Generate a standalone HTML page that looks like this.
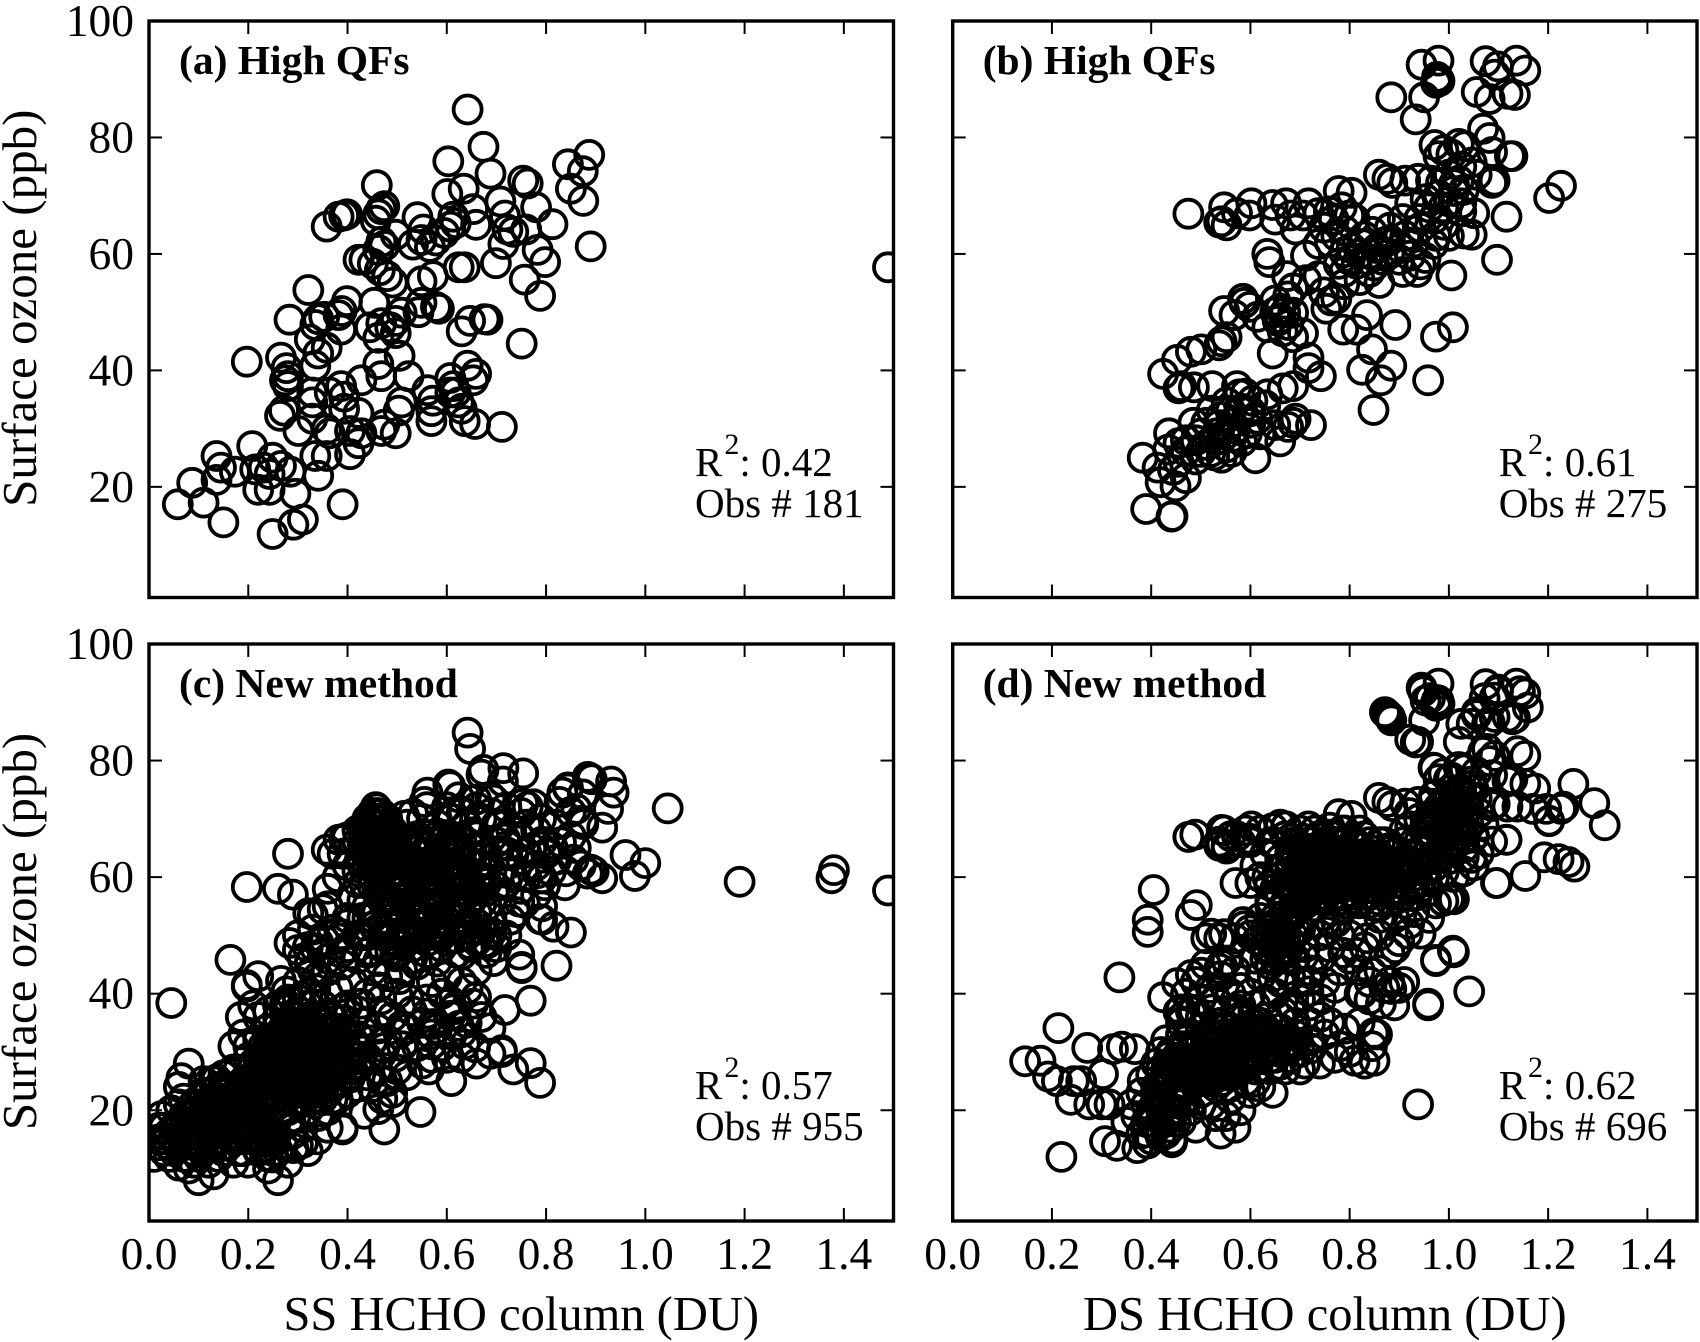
<!DOCTYPE html>
<html lang="en">
<head>
<meta charset="utf-8">
<title>Surface ozone vs HCHO column</title>
<style>
html,body{margin:0;padding:0;background:#fff;}
body{width:1700px;height:1342px;overflow:hidden;}
svg{display:block;}
text{font-family:"Liberation Serif",serif;fill:#000;}
</style>
</head>
<body>
<svg id="chart" xmlns="http://www.w3.org/2000/svg" width="1700" height="1342" viewBox="0 0 1700 1342">
<rect x="0" y="0" width="1700" height="1342" fill="#fff"/>
<defs id="clips"></defs>
</svg>
<script>
const xTicks = [0.2,0.4,0.6,0.8,1.0,1.2,1.4];
const xTickLabels = ["0.0","0.2","0.4","0.6","0.8","1.0","1.2","1.4"];
const xTickLabelValues = [0,0.2,0.4,0.6,0.8,1.0,1.2,1.4];
const yTicks = [20,40,60,80];
const yTickLabels = ["100","80","60","40","20"];
const yTickLabelValues = [100,80,60,40,20];

const panelAPoints = [
[.642,84.8],[.674,78.4],[.603,75.9],[.688,73.8],[.887,77],[.844,75.4],[.874,74.2],[.85,71.2],[.875,69.1],[.89,61.3],[.754,72.6],[.763,72.1],[.634,71.2],[.601,70.3],[.459,71.8],[.708,69],[.78,68],[.717,66.6],[.813,65.1],[.653,67.7],[.474,68.2],[.468,67.7],[.462,66.8],[.457,65.7],[.393,66.6],[.382,66.4],[.399,66.8],[.358,64.7],[.541,66.3],[.553,64.2],[.549,62.4],[.497,63.3],[.613,66.4],[.618,65.3],[.607,64.7],[.595,63.6],[.578,62.3],[.566,61.2],[.532,61.6],[.659,65],[.722,64.2],[.734,63.8],[.714,61.7],[.76,64.2],[.783,60.7],[.798,58.6],[.699,58.4],[.757,55.6],[.788,52.8],[.751,44.6],[.624,57.7],[.636,57.7],[.572,56.2],[.549,55.3],[.474,61.4],[.462,60.7],[.468,62.1],[.422,59],[.434,59],[.451,58.3],[.465,57.2],[.48,56.2],[.491,55.1],[.321,53.8],[.399,51.9],[.454,51.6],[.549,51.6],[.578,50.9],[.584,50.6],[.543,50],[.509,49.9],[.497,48.5],[.468,48.1],[.445,47.4],[.283,48.7],[.341,48.8],[.353,49.2],[.382,49.5],[.388,50.2],[.387,47],[.335,47.8],[.486,47.4],[.497,46.4],[.462,45.6],[.676,48.8],[.682,48.7],[.647,48.5],[.63,46.7],[.324,45.3],[.358,43.9],[.341,42.9],[.335,40.8],[.197,41.5],[.266,42.2],[.277,40.4],[.28,39],[.274,38.3],[.28,37.3],[.505,42.5],[.462,41.1],[.468,39],[.523,39],[.428,38.3],[.329,36.2],[.364,36.2],[.387,37.3],[.393,35.5],[.329,34.5],[.393,33.4],[.422,32.7],[.509,34.5],[.503,33.1],[.561,36.6],[.572,34.8],[.569,33],[.569,31.3],[.607,38.7],[.613,37.3],[.618,36.2],[.607,36.2],[.624,34.5],[.63,33.4],[.636,31.3],[.657,30.8],[.642,40.8],[.659,39.4],[.653,38.3],[.711,30.3],[.264,32.2],[.272,33.1],[.301,29.6],[.329,31.7],[.364,29.2],[.358,29.9],[.405,29.6],[.428,29.2],[.422,27.5],[.468,29.6],[.474,30.7],[.497,29.2],[.405,25.6],[.335,25.3],[.358,25.3],[.341,21.9],[.136,25.3],[.145,23.3],[.136,21.2],[.208,27],[.173,22.6],[.214,23],[.231,23.3],[.249,25],[.266,23.6],[.243,22.2],[.22,19.5],[.243,19.5],[.285,22.6],[.295,18.8],[.058,17],[.087,20.7],[.11,17.3],[.15,13.9],[.249,11.9],[.291,13.5],[.31,14.4],[.39,17],[1.489,57.7]
];

const panelBPoints = [
[.945,92.5],[.979,93.2],[1.074,93.1],[1.136,93.2],[1.154,91.5],[1.099,92.2],[1.092,90.8],[.976,90.4],[.979,90],[.981,89.7],[.974,89.4],[.884,86.9],[.95,86.9],[.933,83.1],[1.056,87.8],[1.082,86.6],[1.118,87.5],[1.133,87.3],[1.069,81.5],[1.082,79.9],[1.128,76.8],[1.123,76.8],[1.087,77.5],[.971,78.7],[.989,77.8],[.979,76.8],[1.02,78.9],[1.032,78.5],[1.005,77.1],[1.046,75.7],[1.025,75],[1,73.6],[1.056,73.6],[1.02,72.6],[1.087,72.2],[1.092,72.6],[1.226,71.7],[1.202,69.6],[.859,73.6],[.876,72.9],[.886,72.2],[.938,72.9],[.964,72.6],[.912,72.6],[.984,72.2],[.979,70.1],[1.01,70.8],[.953,69.4],[.922,68.7],[.989,68],[1.025,68.7],[1.051,67],[1.025,67.3],[1.116,66.4],[1.046,63.3],[1.03,63.5],[.974,63.1],[.943,64.5],[.907,66],[.881,64.5],[.861,66],[1.097,59],[.475,66.9],[.547,68],[.542,65.6],[.552,64.9],[.537,65.4],[.573,67],[.602,68.7],[.598,66.6],[.645,68.4],[.65,65.9],[.672,68.7],[.681,66.6],[.717,68.7],[.706,66.6],[.691,64.2],[.737,67],[.778,70.8],[.804,70.5],[.758,67.3],[.784,68],[.768,65.9],[.799,66.6],[.748,64.5],[.773,63.1],[.737,61.7],[.634,60],[.638,58.6],[.712,59.7],[.789,60.3],[.778,58.3],[.804,61],[.825,61.7],[.845,63.8],[.881,62.4],[.856,61],[.912,63.1],[.835,59],[.814,58.3],[.789,56.9],[.82,55.5],[.84,56.9],[.866,59],[.902,61],[.953,59.3],[.943,58.2],[.936,56.9],[.907,56.9],[1.005,56.3],[.922,59.7],[.969,61.7],[1,63.1],[.674,56.2],[.686,54.1],[.712,55.5],[.737,56.2],[.773,52.3],[.763,52],[.748,53.4],[.753,50.6],[.789,54.8],[.585,52.3],[.588,51.6],[.598,50.9],[.547,50.2],[.568,49.5],[.614,49.2],[.634,47.4],[.65,52],[.676,52.7],[.66,50.6],[.686,49.9],[.655,48.5],[.676,47.8],[.665,46.7],[.706,46.4],[.686,45.7],[.645,42.9],[.552,45.7],[.542,45],[.537,44.3],[.501,43.6],[.48,43.2],[.452,41.8],[.424,39.4],[.46,37.3],[.486,37.1],[.523,37.3],[.455,36.9],[.717,42.2],[.717,40.4],[.742,39],[.835,49.5],[.814,47],[.787,47],[.892,47.8],[1.008,47.4],[.974,45.8],[.845,43.6],[.825,40.1],[.884,40.8],[.863,38.3],[.958,38.3],[.848,33.2],[.573,37.3],[.578,35.9],[.665,36.9],[.686,37.3],[.634,35.9],[.604,34.8],[.552,34.5],[.522,33.1],[.583,33.4],[.614,31.7],[.691,31.7],[.722,30.6],[.676,30.3],[.686,31],[.65,30.6],[.66,27.8],[.61,24.9],[.562,31],[.537,30.6],[.511,31],[.485,31],[.501,29.2],[.532,29.2],[.562,28.5],[.593,29.2],[.583,27.8],[.552,26.8],[.511,27.2],[.527,25.4],[.542,25],[.49,24.7],[.47,26.1],[.455,27.5],[.436,29.2],[.434,26.4],[.455,24.3],[.562,26],[.383,25],[.413,23.3],[.419,20.8],[.449,20.1],[.47,21.5],[.444,22.9],[.39,16.2],[.441,14.9],[.443,15],
[.58,33],[.6,31],[.57,30],[.53,28],[.49,28],[.55,29],[.6,33],[.62,29],[.52,26],[.47,28],[.5,26],[.59,36],[.56,33],[.54,32],[.63,34],
[.82,60],[.85,58],[.87,62],[.83,63],[.8,59],[.86,55],[.88,60],[.9,59],[.84,60],[.76,62],[.79,64],[.81,66],[.94,66],[.96,68],[1,69],[1.01,72],[.97,66],[.93,62],[.99,65],[1.03,71],[.66,49],[.67,50],[.65,50]
];

const panelCExtras = [
[1.045,71.8],[1.19,59.2],[1.375,59.8],[1.38,61.2],[.045,38.4],[.197,58.3],[.26,58],[.28,64],[.164,45.8],[.197,41.2],[.22,43],[.29,57],[.33,53.5],[.35,54.5],[.3,47.5],[.31,46],[.21,38],[.185,36],[.17,31],[.19,33],[.2,31],[.08,28],[.065,25.5],[.06,24],[.07,22],[.045,20],[.025,19],[.02,15],[.03,13],[.01,12],
[.647,82],[.67,77.6],[.714,78.7],[.754,77.8],[.713,76.4],[.607,75.6],[.561,74.5],[.555,72.9],[.457,72],[.468,70.9],[.532,70.9],[.514,70.5],[.624,73.7],[.659,73.3],[.694,73.3],[.775,72.5],[.833,74.5],[.827,72.9],[.844,75.2],[.884,77.2],[.892,76.8],[.931,76.4],[.936,74.5],[.925,71.7],[.913,68.5],[.873,69.7],[.861,71.7],[.96,63.8],[1,62.4],[.979,60.2],[.913,59.8],[.896,61],[.884,60.6],[.838,58.6],[.792,59.8],[.821,63],[.855,63],[.792,66.1],[.746,66.9],[.723,65.4],[.792,55],[.792,52.7],[.815,51.5],[.85,50.5],[.821,44.8],[.769,38.8],[.717,37.2],[.688,34.1],[.711,30],[.688,29.7],[.734,27],[.769,28.1],[.788,24.7],[.609,25],[.564,27],[.547,19.7],[.474,16.7],[.39,16.7],[.462,20.2],[.491,21.4],[.434,19.4],[.746,46.7],[.751,44.4],[.694,45.6],[.728,52.7],[.746,55.8],[.682,48.7],
[.43,63],[.44,66],[.45,69],[.46,71],[.47,69],[.48,66],[.47,63],[.45,62],[.44,68],[.46,65],[.49,68],[.43,66],[.45,64],[.47,67],[.46,68],[.48,70],[.44,64],[.46,62],[.48,63],[.5,65],[.42,68],[.45,67],[.47,65],[.46,70],[.44,70],[.49,64],[.455,66],[.465,66],[.475,64],[.435,69],[.485,68],[.44,62],[.46,67],[.45,71],
[.44,47],[.47,48],[.5,47],[.53,48],[.56,47],[.59,48],[.62,47],[.65,48],[.68,47],[.43,50],[.46,51],[.49,50],[.52,51],[.55,50],[.58,50],[.61,51],[.64,50],[.67,51],[.7,50],[.45,53],[.48,54],[.51,53],[.54,54],[.57,53],[.6,54],[.63,53],[.66,54],[.69,53],[.44,55],[.47,56],[.5,55],[.53,56],[.56,55],[.59,56],[.62,55],[.65,56],[.68,55],[.46,58],[.49,58],[.52,59],[.55,58],[.58,59],[.61,58],[.64,59],[.67,58],[.45,60],[.48,60],[.51,61],[.54,60],[.57,61],[.6,60],[.63,61],[.66,60],[.69,61],[.49,62],[.52,63],[.55,62],[.58,63],[.61,62],[.64,63],[.67,62],[.5,64],[.53,65],[.56,64],[.59,65],[.62,64],[.65,65],[.68,64],[.51,66],[.54,67],[.57,66],[.6,67],[.63,66],[.66,67],[.52,57],[.56,57],[.6,57],[.64,57],[.48,52],[.52,49],[.56,52],[.6,49],[.64,52],[.5,57.5],[.54,59.5],[.58,61.5],[.62,59.5],[.55,53],[.59,51],[.53,46],[.58,45.5],
[.52,69],[.55,70],[.58,69],[.61,70],[.64,69],[.67,70],[.7,69],[.73,68],[.76,69],[.79,70],[.56,72],[.6,72],[.63,71],[.66,72],[.69,71],[.72,72],[.75,71],[.82,69],[.85,67],[.72,64],[.75,63],[.78,62],[.81,61],[.84,61],[.87,62],[.7,66],[.73,61],[.76,60],[.72,59],[.75,58],[.78,57],[.71,56],[.74,54],[.72,50],[.7,48],[.83,66],[.86,65],[.8,64],[.77,65],
[.2,24],[.22,27],[.24,30],[.26,33],[.28,35],[.3,37],[.32,38],[.34,36],[.36,34],[.38,32],[.4,30],[.42,28],[.44,26],[.18,27],[.2,29],[.22,32],[.24,34],[.26,36],[.28,30],[.3,33],[.32,35],[.34,31],[.36,30],[.38,28],[.4,26],[.42,24],[.22,24],[.24,26],[.26,28],[.28,26],[.3,28],[.32,30],[.34,28],[.36,27],[.38,25],[.4,23],[.24,22],[.26,24],[.28,23],[.3,25],[.32,26],[.34,25],[.36,23],[.38,22],[.27,31],[.29,33],[.31,31],[.33,33],[.35,32],[.37,30],[.39,34],[.41,32],[.25,29],[.27,27],[.29,29],[.31,27],[.33,27],[.35,26],[.37,24],[.39,27],[.41,27],[.23,28],[.21,26],[.19,25],[.25,32],[.27,34],[.29,36],[.31,34],[.33,36],[.35,35],[.37,36],[.23,31],[.25,26],[.27,25],[.29,24],[.31,23],[.33,23],[.35,22],[.3,21],[.28,20],[.26,21],[.32,20],[.34,19],[.36,20],[.3,39],[.28,38],[.26,38],[.24,37],[.22,36],[.32,40],[.35,38],[.42,31],[.44,29],[.46,27],[.48,25],[.45,24],[.47,22],
[.03,15],[.05,17],[.07,19],[.09,21],[.11,23],[.13,25],[.15,26],[.17,24],[.19,22],[.21,20],[.23,18],[.25,16],[.27,14],[.04,12],[.06,14],[.08,16],[.1,18],[.12,20],[.14,22],[.16,23],[.18,21],[.2,19],[.22,17],[.24,15],[.26,13],[.07,12],[.09,14],[.11,16],[.13,18],[.15,20],[.17,21],[.19,19],[.21,17],[.23,15],[.25,13],[.06,10.5],[.08,10],[.1,12],[.12,14],[.14,16],[.16,18],[.18,17],[.2,15],[.22,13],[.24,12],[.1,8],[.13,9],[.14,12],[.16,14],[.18,13],[.17,11],[.2,11],[.24,10],[.26,8],[.28,11],[.3,14],[.32,13],[.29,16],[.31,17],[.28,18],[.26,19],[.24,20],[.12,17],[.1,20],[.08,19],[.14,19],[.16,21],[.18,19],[.04,16],[.02,17],[.06,21],[.11,25],[.14,24],[.17,27],[.2,22],[.22,21],[.34,15],[.36,17],[.05,13],[.12,11],[.09,11],[.15,15],[.19,15],
[.3,42],[.33,44],[.36,46],[.39,45],[.42,46],[.45,44],[.48,43],[.51,44],[.54,45],[.57,42],[.6,43],[.63,42],[.66,44],[.38,41],[.41,42],[.44,40],[.47,37],[.5,40],[.53,37],[.56,39],[.59,40],[.62,38],[.36,40],[.4,38],[.43,35],[.46,34],[.49,36],[.52,34],[.55,35],[.58,34],[.61,33],[.64,35],[.67,36],[.42,37],[.45,32],[.48,32],[.51,31],[.54,31],[.57,29],[.6,29],[.63,29],[.66,28],[.5,27],[.47,25],[.49,23],[.52,26],[.55,28],[.59,31],
[.36,58],[.38,60],[.4,62],[.42,61],[.37,64],[.39,64],[.41,57],[.43,56],[.44,53],[.4,53],[.37,51],[.35,47],[.33,51],[.36,55],[.4,48],[.42,50],[.3,50],[.32,48]
];

const panelCDense = [
[.435,64.5],[.445,65],[.455,63],[.465,64],[.475,66],[.485,65],[.44,67],[.45,68],[.46,69],[.47,70],[.48,68],[.49,66],[.455,70],[.465,63],[.43,68],[.42,66],[.5,67],[.44,65.5],[.47,62],[.46,63.5],[.48,64.5],[.45,65.5],[.435,67],[.47,64.5],[.455,61.5],[.445,63],
[.5,49],[.53,50],[.56,49],[.59,52],[.62,49.5],[.65,51],[.51,52],[.54,52],[.57,51],[.6,52.5],[.63,51],[.66,52],[.49,54],[.52,55],[.55,55],[.58,54.5],[.61,55],[.64,54.5],[.67,55.5],[.5,59],[.53,58],[.56,59.5],[.59,58],[.62,57.5],[.65,58],[.68,59],[.51,62.5],[.54,61.5],[.57,62.5],[.6,61.5],[.63,62.5],[.66,62],[.52,60],[.55,60.5],[.58,60],[.61,60],[.64,60.5],[.67,60],[.53,63],[.56,62.5],[.59,63],[.62,65.5],[.65,63.5],[.54,64.5],[.57,64.5],[.6,64],[.63,64.5],[.49,56],[.46,54],[.43,53],[.47,50],[.66,49],[.69,50.5],[.55,66],[.58,67],[.61,67],
[.27,29],[.29,31],[.31,29],[.33,29],[.35,30],[.37,32],[.26,30.5],[.28,32],[.3,30],[.32,32],[.34,33],[.36,32],[.38,30],[.4,28.5],[.25,27.5],[.27,26],[.29,27],[.31,25],[.33,25],[.35,28],[.37,26],[.39,25],[.24,28],[.26,26],[.28,28],[.3,26],[.32,28],[.34,27],[.36,25],[.38,27],[.23,29.5],[.25,31],[.27,33],[.29,35],[.31,33],[.33,31],[.35,34],[.37,34],[.22,29],[.24,32],[.26,34.5],[.28,33.5],[.3,35],[.32,33],[.34,35],[.21,28],[.23,26],[.25,24.5],[.27,23],[.29,25],[.31,24],[.33,22],[.35,24],[.37,22],[.28,24.5],[.3,23],[.32,24],[.34,23],[.26,31.5],[.28,29],[.3,31.5],[.32,29],[.34,29.5],
[.05,15],[.07,16],[.09,17],[.11,18],[.13,20],[.15,22],[.17,22],[.19,20],[.21,18],[.23,17],[.25,14.5],[.06,17],[.08,18],[.1,16],[.12,16],[.14,18],[.16,20],[.18,23],[.2,21],[.22,19],[.24,18],[.07,14],[.09,13],[.11,14],[.13,16],[.15,18],[.17,19],[.19,17],[.21,15],[.23,13.5],[.1,21],[.12,23],[.14,21],[.16,19],[.18,15],[.2,17],[.22,15],[.13,14],[.15,13],[.17,16],[.19,13],[.11,20],[.09,19],[.13,22],[.15,24],[.17,20],[.19,24],[.21,22],[.23,20],[.04,14],[.03,17],[.02,14]
];

const panelDExtras = [
[.146,28.4],[.177,28.5],[.213,34.1],[.192,25.8],[.21,25],[.271,30.7],[.244,25],[.259,25],[.303,26.2],[.238,21.8],[.275,21],[.3,21],[.316,21],[.323,30.5],[.341,30.9],[.367,30.5],[.219,12],[.307,14.7],[.331,13.9],[.372,13.5],[.393,14.3],[.442,14.5],[.419,15.5],[.336,42.8],[.393,52.7],[.393,50.6],[.405,57.8],[.48,53.5],[.492,55.2],[.57,59],[.521,50.3],[.511,49.5],[.537,49.5],[.475,66.9],[.489,67.3],[.542,68.1],[.552,65.4],[.537,66.1],[.938,21],[1.041,40.4],[.958,38],[1.01,47.1],[.974,45.6],[1.095,59],[1.154,60.2],[1.192,63.4],[1.221,63.1],[1.241,62.6],[1.253,61.8],[1.314,68.9],[1.293,72.7],[1.251,76],[1.231,72.1],[1.202,69.7],[1.196,71.7],[1.174,75.2],[1.154,76],[1.154,80.8],[1.138,81.6],[1.118,76.4],[1.092,72.5],[1.118,72.1],[1.138,72.1],[1.169,71.7],[1.116,66.4],[1.087,66.1],[1,56.2],[1.01,56.2],[.989,55.9],[.974,55.5],[.943,50.3],[.917,50.3],[.876,87.9],[.881,87.5],[.871,88.3],[1.025,86.3],[1.046,86.3],[1.02,83.2],[.922,83.6],[.938,83.2],[.948,91.9],[.962,90.7],[.974,89.9],[.953,90.3],[.979,90.3],[1.072,90.7],[1.099,91.9],[1.143,91.9],[1.159,89.1],[1.128,87.1],[1.077,86.3],[1.092,87.5],[1.056,88.3],[1.077,82],[1.092,80.8],[1.056,78],[.969,78.8],[1,76.8],[1.02,78.8],[1.046,76.4],
[.64,56],[.67,55.5],[.7,56],[.73,55],[.76,56],[.79,55.5],[.82,56],[.85,55],[.88,56],[.91,55.5],[.65,58],[.68,58],[.71,58],[.74,58],[.77,58],[.8,57.5],[.83,58],[.86,57.5],[.89,58],[.92,58],[.66,60],[.69,60],[.72,60],[.75,60],[.78,60],[.81,59.5],[.84,60],[.87,60],[.9,60],[.67,62],[.7,62],[.73,62],[.76,62],[.79,62],[.82,62],[.85,62],[.88,62],[.91,62],[.68,64],[.71,64],[.74,64],[.77,64],[.8,64],[.83,64],[.86,63.5],[.89,64],[.66,63],[.69,66],[.72,66],[.75,66],[.78,66],[.81,65.5],[.84,66],[.87,66],[.7,68],[.73,68],[.76,68.5],[.79,68],[.82,68],[.655,61],[.685,59],[.715,61],[.745,61],[.775,59],[.805,61],[.835,61],[.865,59],[.895,61],[.925,60],[.72,63],[.75,63],[.78,63],[.81,63],[.84,63],[.62,60],[.61,62],[.63,64],[.6,59],[.64,66],[.67,67],[.66,69],[.62,68],[.59,68],[.58,66],[.6,66],[.56,67],
[.95,65],[.97,67],[.99,69],[1.01,71],[1.03,73],[1.05,75],[.96,70],[.98,72],[1,74],[1.02,75],[1.04,69],[1.02,67],[1,66],[.98,64],[.96,63],[1.03,65],[1.05,67],[1.06,71],[1.07,69],[.97,69],[.99,71],[1.01,68],[1.03,70],[.95,68],[.93,66],[.91,68],[.94,70],[.92,71],[.97,74],[1,71],[1.02,73],[1.04,72],[1.06,64],[1.05,62],[1.03,61],[1.01,60],[.99,61],[.97,60],[.95,61],
[.42,24],[.45,26],[.48,28],[.51,30],[.54,32],[.57,33],[.6,34],[.63,33],[.66,34],[.69,33],[.72,32],[.43,27],[.46,29],[.49,31],[.52,33],[.55,34],[.58,31],[.61,31],[.64,31],[.67,31],[.7,30],[.44,30],[.47,32],[.5,34],[.53,28],[.56,29],[.59,29],[.62,29],[.65,29],[.68,29],[.71,28],[.74,28],[.46,23],[.49,25],[.52,25],[.55,26],[.58,27],[.61,27],[.64,27],[.67,27],[.7,27],[.41,28],[.4,26],[.44,23],[.47,24],[.5,23],[.53,24],[.56,24],[.59,25],[.48,26],[.51,27],[.54,28],[.57,29],[.6,30],[.63,30],[.66,32],[.69,35],[.66,36],[.62,35],[.58,36],[.54,35],[.5,36],[.46,33],[.43,32],[.42,30],
[.38,16],[.4,18],[.42,20],[.44,22],[.37,19],[.39,21],[.41,22],[.43,18],[.45,20],[.47,22],[.4,15],[.42,16],[.44,17],[.46,18],[.38,23],[.36,21],[.35,18],[.48,20],[.5,21],[.52,21],[.49,17],[.53,19],[.55,19],[.57,17],[.54,16],[.58,20],[.56,22],[.6,23],[.62,24],[.645,23],
[.62,43],[.64,45],[.66,47],[.68,49],[.7,51],[.63,48],[.65,50],[.67,52],[.69,54],[.61,46],[.63,51],[.65,53],[.67,44],[.69,46],[.71,48],[.6,50],[.62,53],[.64,55],[.66,42],[.68,43],[.72,52],[.74,50],[.59,47],[.57,44],[.58,41],
[.46,35],[.48,37],[.5,39],[.52,41],[.54,43],[.56,40],[.58,38],[.6,40],[.47,40],[.49,42],[.51,45],[.53,39],[.55,37],[.57,37],[.59,36],[.61,38],[.63,39],[.65,40],[.68,38],[.7,39],[.72,38],[.74,36],[.76,35],[.72,35],[.75,33],[.78,31],[.8,30],[.77,29],[.81,28.5],[.83,28],[.85,28.5],[.845,31],[.855,33],[.79,34],[.82,35],
[.74,46],[.76,48],[.78,44],[.8,46],[.82,44],[.84,42],[.86,44],[.88,42],[.9,41],[.75,42],[.77,41],[.82,40],[.84,39],[.87,41],[.89,38],[.91,42],[.8,50],[.83,48],[.86,50],[.88,47],[.9,49],[.92,52],[.78,50],[.72,44],[.86,53],[.89,53],[.93,54],[.96,53],[.7,42]
];

const panelDDense = [
[.68,61],[.71,62.5],[.74,60],[.77,61],[.8,60.5],[.83,59.5],[.86,61],[.89,59],[.69,63],[.72,61],[.75,62],[.78,64.5],[.81,62],[.84,62.5],[.87,63],[.9,62.5],[.7,65],[.73,65],[.76,65],[.79,63],[.82,65],[.85,64.5],[.88,65],[.71,59],[.74,57],[.77,57],[.8,58.5],[.83,57],[.86,56],[.89,57],[.72,57],[.75,56.5],[.78,56],[.81,57],[.84,55.5],[.87,58.5],[.74,67],[.77,67],[.8,66.5],[.83,67],[.72,64.5],[.75,64.5],[.7,60.5],[.67,59],[.66,57],[.69,57],[.91,60],[.89,61],[.93,59],[.94,58],
[.99,67],[1.01,66],[1.03,68],[1.0,70],[.98,70],[1.02,70],[.96,66],[.98,68],[1.0,72],[1.02,71.5],[1.04,74],[.99,73],[1.01,74],[.97,71],
[.45,29],[.47,31],[.49,29],[.51,32],[.53,31],[.55,30],[.57,31],[.59,32],[.61,33],[.63,31.5],[.65,32],[.67,33],[.44,26],[.46,27],[.48,30],[.5,28],[.52,30],[.54,26],[.56,27],[.58,29],[.6,28],[.62,31],[.64,29],[.66,30],[.68,31],[.46,31],[.48,33],[.5,32],[.52,31.5],[.54,30],[.56,32],[.58,33],[.6,32],[.62,33],[.43,25],[.45,24],[.47,26],[.49,27],[.51,25],[.53,26],[.55,27.5],[.57,27],[.44,28],[.42,27],
[.4,20],[.42,22],[.44,20],[.46,21],[.41,17],[.43,16],[.45,18],[.39,18],[.41,24],[.43,21],
[.65,48],[.67,49],[.69,51],[.64,50],[.66,51],[.68,53],[.67,46],[.65,46],[.63,46]
];

const panelCPoints = panelAPoints.concat(panelCExtras, panelCDense);
const panelDPoints = panelBPoints.concat(panelDExtras, panelDDense);

const panelA = {key:"a", left:149, right:893.5, top:21, bottom:597.5, points:panelAPoints, title:"(a) High QFs", r2:"0.42", obs:"181", showY:true, showX:false, xLabel:""};
const panelB = {key:"b", left:952.7, right:1697, top:21, bottom:597.5, points:panelBPoints, title:"(b) High QFs", r2:"0.61", obs:"275", showY:false, showX:false, xLabel:""};
const panelC = {key:"c", left:149, right:893.5, top:644, bottom:1221, points:panelCPoints, title:"(c) New method", r2:"0.57", obs:"955", showY:true, showX:true, xLabel:"SS HCHO column (DU)"};
const panelD = {key:"d", left:952.7, right:1697, top:644, bottom:1221, points:panelDPoints, title:"(d) New method", r2:"0.62", obs:"696", showY:false, showX:true, xLabel:"DS HCHO column (DU)"};

const X_MIN = 0, X_MAX = 1.5, Y_MIN = 1, Y_MAX = 100;
const SVG_NS = "http://www.w3.org/2000/svg";
const svg = document.getElementById("chart");
const clips = document.getElementById("clips");

function make(tag, parent){
  const el = document.createElementNS(SVG_NS, tag);
  parent.appendChild(el);
  return el;
}
function xScale(p, v){ return p.left + (v - X_MIN) / (X_MAX - X_MIN) * (p.right - p.left); }
function yScale(p, v){ return p.bottom - (v - Y_MIN) / (Y_MAX - Y_MIN) * (p.bottom - p.top); }

function tickLine(g, x1, y1, x2, y2, name){
  const t = make("line", g);
  t.setAttribute("x1", x1);
  t.setAttribute("y1", y1);
  t.setAttribute("x2", x2);
  t.setAttribute("y2", y2);
  t.setAttribute("stroke", "#000");
  t.setAttribute("stroke-width", "2");
  
  
}

function drawPanel(p){
  const g = make("g", svg);
  
  

  const clip = make("clipPath", clips);
  clip.setAttribute("id", "clip-" + p.key);
  const clipRect = make("rect", clip);
  clipRect.setAttribute("x", p.left);
  clipRect.setAttribute("y", p.top);
  clipRect.setAttribute("width", p.right - p.left);
  clipRect.setAttribute("height", p.bottom - p.top);

  const pts = make("g", g);
  pts.setAttribute("clip-path", "url(#clip-" + p.key + ")");
  
  
  p.points.forEach(function(d){
    const c = make("circle", pts);
    c.setAttribute("cx", xScale(p, d[0]).toFixed(1));
    c.setAttribute("cy", yScale(p, d[1]).toFixed(1));
    c.setAttribute("r", "14");
    c.setAttribute("fill", "none");
    c.setAttribute("stroke", "#000");
    c.setAttribute("stroke-width", "3.8");
    
    
  });

  xTicks.forEach(function(v){
    const x = xScale(p, v);
    tickLine(g, x, p.bottom, x, p.bottom - 13, "x-tick");
    tickLine(g, x, p.top, x, p.top + 13, "x-tick-top");
  });
  yTicks.forEach(function(v){
    const y = yScale(p, v);
    tickLine(g, p.left, y, p.left + 13, y, "y-tick");
    tickLine(g, p.right, y, p.right - 13, y, "y-tick-right");
  });

  const frame = make("rect", g);
  frame.setAttribute("x", p.left);
  frame.setAttribute("y", p.top);
  frame.setAttribute("width", p.right - p.left);
  frame.setAttribute("height", p.bottom - p.top);
  frame.setAttribute("fill", "none");
  frame.setAttribute("stroke", "#000");
  frame.setAttribute("stroke-width", "3.4");
  
  

  if (p.showY){
    yTickLabels.forEach(function(label, i){
      const t = make("text", g);
      t.setAttribute("x", p.left - 15);
      t.setAttribute("y", yScale(p, yTickLabelValues[i]) + 15);
      t.setAttribute("text-anchor", "end");
      t.setAttribute("font-size", "45.5");
      t.textContent = label;
      
      
    });
    const yl = make("text", g);
    const cy = (p.top + p.bottom) / 2;
    yl.setAttribute("transform", "translate(36," + (cy - 1) + ") rotate(-90)");
    yl.setAttribute("text-anchor", "middle");
    yl.setAttribute("font-size", "49");
    yl.textContent = "Surface ozone (ppb)";
    
    
  }
  if (p.showX){
    xTickLabels.forEach(function(label, i){
      const t = make("text", g);
      t.setAttribute("x", xScale(p, xTickLabelValues[i]));
      t.setAttribute("y", p.bottom + 48);
      t.setAttribute("text-anchor", "middle");
      t.setAttribute("font-size", "45.5");
      t.textContent = label;
      
      
    });
    const xl = make("text", g);
    xl.setAttribute("x", (p.left + p.right) / 2);
    xl.setAttribute("y", p.bottom + 109);
    xl.setAttribute("text-anchor", "middle");
    xl.setAttribute("font-size", "48.5");
    xl.textContent = p.xLabel;
    
    
  }

  const title = make("text", g);
  title.setAttribute("x", p.left + 30);
  title.setAttribute("y", p.top + 53);
  title.setAttribute("font-size", "41.5");
  title.setAttribute("font-weight", "bold");
  title.textContent = p.title;
  
  

  const rx = p.left + 546;
  const r = make("text", g);
  r.setAttribute("x", rx);
  r.setAttribute("y", p.top + 455);
  r.setAttribute("font-size", "41");
  
  
  const r1 = make("tspan", r);
  r1.textContent = "R";
  const r2 = make("tspan", r);
  r2.setAttribute("dy", "-22");
  r2.setAttribute("font-size", "30");
  r2.setAttribute("dx", "2");
  r2.textContent = "2";
  const r3 = make("tspan", r);
  r3.setAttribute("dy", "22");
  r3.textContent = ": " + p.r2;

  const o = make("text", g);
  o.setAttribute("x", rx);
  o.setAttribute("y", p.top + 496);
  o.setAttribute("font-size", "41");
  o.textContent = "Obs # " + p.obs;
  
  
}

[panelA, panelB, panelC, panelD].forEach(drawPanel);
</script>
</body>
</html>
